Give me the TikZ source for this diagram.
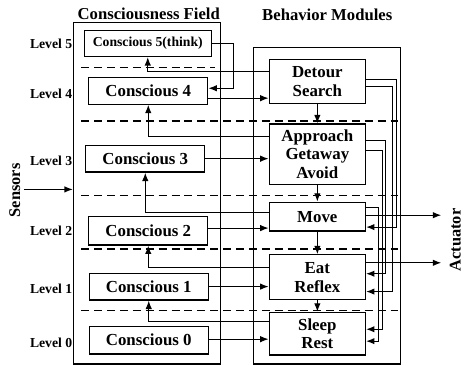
\documentclass[tikz,border=0pt]{standalone}
\usepackage{fontspec}
\setmainfont{Liberation Serif}
\usetikzlibrary{arrows.meta}
\begin{document}
\begin{tikzpicture}[x=1pt,y=-1pt,
  box/.style={draw, line width=1.2pt, inner sep=0pt, align=center,
              font=\bfseries\fontsize{17}{19}\selectfont},
  cbox/.style={box, minimum width=120pt, minimum height=27pt},
  mbox/.style={box, minimum width=97pt},
  frame/.style={draw, line width=1.1pt, inner sep=0pt},
  arr/.style={line width=1.2pt, -{Latex[length=8.5pt,width=6.5pt]}},
  sep/.style={line width=1.6pt, dash pattern=on 8pt off 5pt},
  lvl/.style={anchor=east, inner sep=0pt, font=\bfseries\fontsize{13.8}{16}\selectfont},
  title/.style={font=\bfseries\fontsize{16.8}{19}\selectfont},
  side/.style={rotate=90, font=\bfseries\fontsize{16.5}{19}\selectfont}]

\path[fill=white] (0,0) rectangle (464,369);

% titles
\node[title] (tcf) at (150,14) {Consciousness Field};
\node[title] (tbm) at (330,15) {Behavior Modules};

% outer frames
\node[frame, minimum width=148pt, minimum height=344pt] (cf) at (148,195) {};
\node[frame, minimum width=148pt, minimum height=319pt] (bm) at (330,207.5) {};

% level separators
\draw[sep] (82,68) -- (217,68);
\foreach \yy in {122,197,251,313} \draw[sep] (82,\yy) -- (401,\yy);

% level labels
\node[lvl] (l5) at (73,44) {Level 5};
\node[lvl] (l4) at (73,95) {Level 4};
\node[lvl] (l3) at (73,162) {Level 3};
\node[lvl] (l2) at (73,233) {Level 2};
\node[lvl] (l1) at (73,291) {Level 1};
\node[lvl] (l0) at (73,346) {Level 0};

% consciousness levels
\node[box, minimum width=128pt, minimum height=26pt,
      font=\bfseries\fontsize{13.8}{16}\selectfont] (C5) at (149,44) {Conscious 5(think)};
\node[cbox] (C4) at (149.5,91.5) {Conscious 4};
\node[cbox] (C3) at (146.5,160) {Conscious 3};
\node[cbox, minimum height=29pt] (C2) at (149.5,232.5) {Conscious 2};
\node[cbox] (C1) at (150,289) {Conscious 1};
\node[cbox, minimum height=28pt] (C0) at (150,343) {Conscious 0};

% behavior modules
\node[mbox, minimum height=44pt] (D) at (320,82) {Detour\\Search};
\node[mbox, minimum height=61pt] (A) at (320,155.5) {Approach\\Getaway\\Avoid};
\node[mbox, minimum height=29pt] (M) at (320,218.5) {Move};
\node[mbox, minimum height=45pt] (E) at (320,279.5) {Eat\\Reflex};
\node[mbox, minimum height=43pt] (S) at (320,336.5) {Sleep\\Rest};

% sensors and actuator
\node[side] (sens) at (15,192) {Sensors};
\node[side] (act) at (459,242) {Actuator};
\coordinate (sin) at (24,191);
\coordinate (a1) at (445,217);
\coordinate (a2) at (445,265);
\draw[arr] (sin) -- (cf.west|-sin);

% module chain
\draw[arr] (D.south) -- (A.north);
\draw[arr] (A.south) -- (M.north);
\draw[arr] (M.south) -- (E.north);
\draw[arr] (E.south) -- (S.north);

% consciousness -> modules and modules -> higher consciousness
\draw[arr] (C5.east) -- ++(22,0) |- (C4.east|-0,89);
\draw[arr] (C4.east|-0,99) -- (D.west|-0,99);
\draw[arr] (D.west|-0,72) -| (C5.south);
\draw[arr] (C3.east) -- (A.west|-0,160);
\draw[arr] (A.west|-0,138) -| (C4.south);
\draw[arr] (C2.east|-0,230) -- (M.west|-0,230);
\draw[arr] (M.west|-0,214) -| (C3.south);
\draw[arr] (C1.east) -- (E.west|-0,289);
\draw[arr] (E.west|-0,270) -| (C2.south);
\draw[arr] (C0.east|-0,342) -- (S.west|-0,342);
\draw[arr] (S.west|-0,324) -| (C1.south);

% inhibition wiring on the right
\draw[arr] (D.east|-0,80) -- ++(31,0) |- (M.east|-0,229);
\draw[arr] (D.east|-0,87) -- ++(26.5,0) |- (E.east|-0,294);
\draw[arr] (A.east|-0,142) -- ++(19.5,0) |- (E.east|-0,276);
\draw[arr] (A.east|-0,152) -- ++(16.5,0) |- (S.east|-0,332);
\draw[arr] (M.east|-0,209) -- ++(12.5,0) |- (S.east|-0,344);

% outputs
\draw[arr] (M.east|-a1) -- (a1);
\draw[arr] (E.east|-a2) -- (a2);
\end{tikzpicture}
\end{document}
